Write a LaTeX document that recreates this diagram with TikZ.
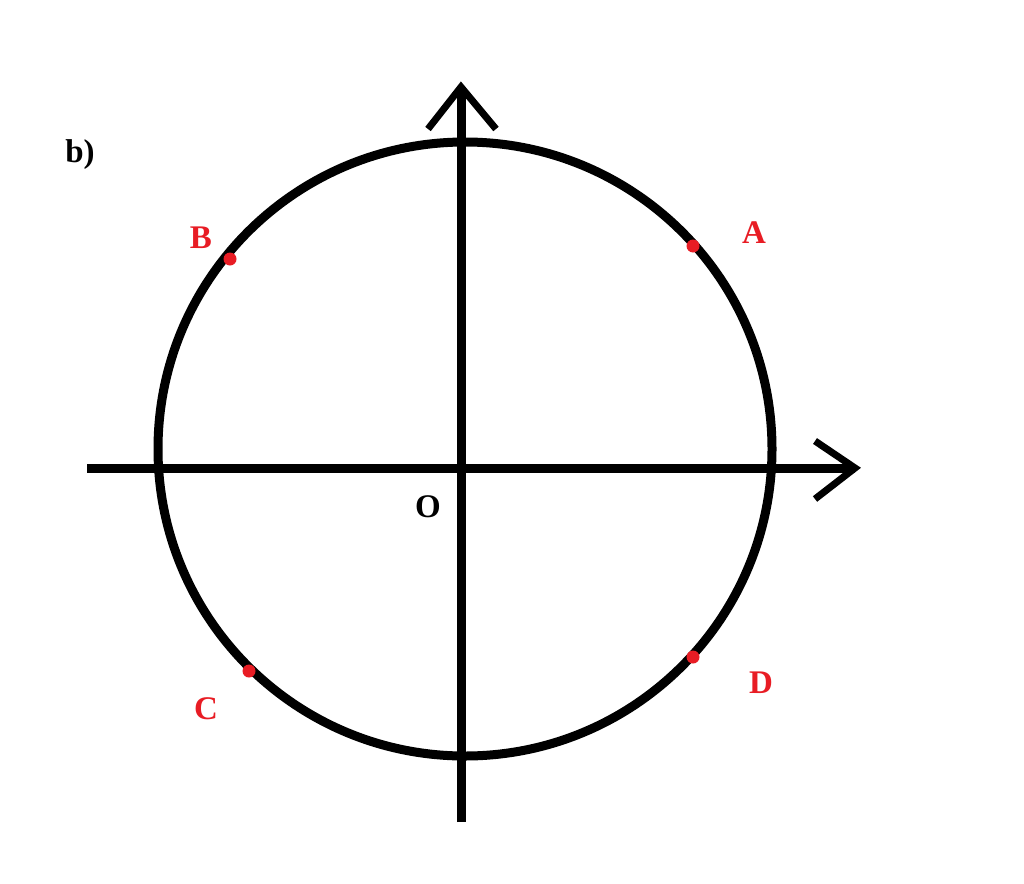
\documentclass[tikz,border=0pt]{standalone}
\usepackage{fontspec}
\setmainfont{Liberation Serif}
\definecolor{ptred}{RGB}{232,28,36}
\begin{document}
\begin{tikzpicture}[x=1pt,y=-1pt,
  axis/.style={line width=9pt},
  chev/.style={line width=7pt,line join=miter},
  ring/.style={line width=9pt},
  pt/.style={circle,fill=ptred,minimum size=13pt,inner sep=0pt},
  lab/.style={font=\fontsize{33}{36}\selectfont\bfseries,text=ptred,inner sep=0pt},
  blab/.style={font=\fontsize{33}{36}\selectfont\bfseries,inner sep=0pt}]
\useasboundingbox[fill=white] (0,0) rectangle (1024,883);
% axes
\coordinate (xl) at (87,468);
\coordinate (xr) at (855,468);
\coordinate (yb) at (461,822);
\coordinate (yt) at (461,87);
\coordinate (ta) at (428,129);
\coordinate (tb) at (496,129);
\coordinate (ra) at (815,441);
\coordinate (rb) at (815,499);
\coordinate (c) at (465,449);
\draw[ring] (c) circle[radius=307];
\draw[axis] (xl) -- (xr);
\draw[axis] (yb) -- (yt);
\draw[chev] (ta) -- (yt) -- (tb);
\draw[chev] (ra) -- (xr) -- (rb);
% points
\node[pt] (pA) at (693,246) {};
\node[pt] (pB) at (230,259) {};
\node[pt] (pC) at (249,671) {};
\node[pt] (pD) at (693,657) {};
\node[lab] (lA) at (754,233) {A};
\node[lab] (lB) at (201,238) {B};
\node[lab] (lC) at (206,709) {C};
\node[lab] (lD) at (761,683) {D};
\node[blab] (lO) at (428,507) {O};
\node[blab] (lb) at (80,155) {b)};
\end{tikzpicture}
\end{document}
